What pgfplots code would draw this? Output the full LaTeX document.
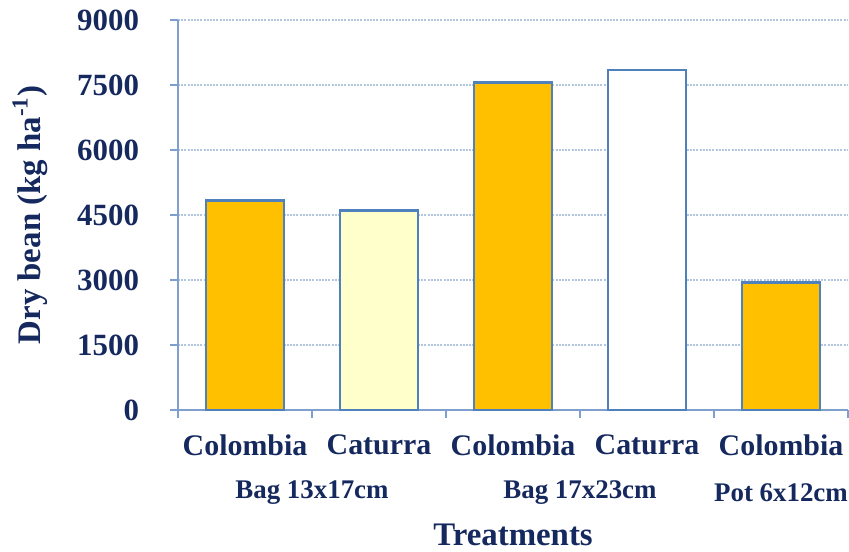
\documentclass[border=0pt]{standalone}
\usepackage{fontspec}
\setmainfont{Liberation Serif}
\usepackage{pgfplots}
\pgfplotsset{compat=1.18}
\definecolor{navy}{HTML}{15295E}
\definecolor{gold}{HTML}{FFC000}
\definecolor{cream}{HTML}{FFFFCC}
\definecolor{edge}{HTML}{4F81BD}
\definecolor{gridblue}{HTML}{B3C6E0}
\definecolor{axisblue}{HTML}{7F9FCF}

\begin{document}
\begin{tikzpicture}
\begin{axis}[
  scale only axis, width=335bp, height=195bp,
  xmin=-0.5, xmax=4.5, ymin=0, ymax=9000,
  clip=false,
  axis lines*=left,
  axis line style={axisblue, line width=0.8bp},
  ytick={0,1500,3000,4500,6000,7500,9000},
  yticklabels={0,1500,3000,4500,6000,7500,9000},
  xtick={-0.5,0.5,1.5,2.5,3.5,4.5},
  xticklabels={},
  tick align=outside,
  major tick length=4bp,
  tick style={axisblue, line width=0.6bp},
  ymajorgrids,
  grid style={gridblue, line width=0.6bp, dash pattern=on 1bp off 0.6bp},
  yticklabel style={font=\fontsize{15.5}{18}\selectfont\bfseries\color{navy}, xshift=-12bp},
]
% Colombia
\addplot[ybar, bar shift=0pt, bar width=39bp, fill=gold, draw=edge, line width=1.2bp]
  coordinates {(0,4830) (2,7555) (4,2946)};
% Caturra, bag 13x17cm
\addplot[ybar, bar shift=0pt, bar width=39bp, fill=cream, draw=edge, line width=1.2bp]
  coordinates {(1,4600)};
% Caturra, bag 17x23cm
\addplot[ybar, bar shift=0pt, bar width=39bp, fill=white, draw=edge, line width=1.2bp]
  coordinates {(3,7840)};

\begin{scope}[every node/.style={inner sep=0pt, font=\fontsize{15}{17}\selectfont\bfseries\color{navy}}]
\node at (axis cs:0,0) [yshift=-17.5bp] {Colombia};
\node at (axis cs:1,0) [yshift=-17.5bp] {Caturra};
\node at (axis cs:2,0) [yshift=-17.5bp] {Colombia};
\node at (axis cs:3,0) [yshift=-17.5bp] {Caturra};
\node at (axis cs:4,0) [yshift=-17.5bp] {Colombia};
\end{scope}
\begin{scope}[every node/.style={inner sep=0pt, font=\fontsize{13.5}{16}\selectfont\bfseries\color{navy}}]
\node at (axis cs:0.5,0) [yshift=-41.5bp] {Bag 13x17cm};
\node at (axis cs:2.5,0) [yshift=-41.5bp] {Bag 17x23cm};
\node at (axis cs:4,0) [yshift=-41.5bp] {Pot 6x12cm};
\end{scope}
\node[inner sep=0pt, font=\fontsize{16.5}{20}\selectfont\bfseries\color{navy}]
  at (rel axis cs:0.5,0) [yshift=-62.5bp] {Treatments};
\node[xshift=-74bp, rotate=90, inner sep=0pt, font=\fontsize{16.5}{19}\selectfont\bfseries\color{navy}]
  at (rel axis cs:0,0.5) {Dry bean (kg ha\textsuperscript{-1})};
\coordinate (SW) at (rel axis cs:0,0);
\coordinate (NE) at (rel axis cs:1,1);
\end{axis}
% page frame around the plot area and its labels
\pgfresetboundingbox
\path[use as bounding box] ([shift={(-89bp,-71bp)}]SW) rectangle ([shift={(0.5bp,10bp)}]NE);
\end{tikzpicture}
\end{document}
